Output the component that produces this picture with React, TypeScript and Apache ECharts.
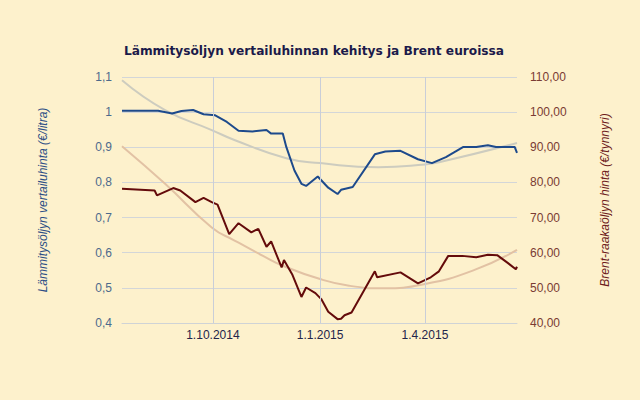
import React, { useEffect, useRef } from "react";
import * as echarts from "echarts";

const TITLE = "Lämmitysöljyn vertailuhinnan kehitys ja Brent euroissa";
const LEFT_NAME = "Lämmitysöljyn vertailuhinta (€/litra)";
const RIGHT_NAME = "Brent-raakaöljyn hinta (€/tynnyri)";

const X_MIN = "2014-07-15";
const X_MAX = "2015-06-19";
const X_MARKS = ["2014-10-01", "2015-01-01", "2015-04-01"];
const X_MARK_LABELS = ["1.10.2014", "1.1.2015", "1.4.2015"];

const heatingDates = [
  "2014-07-15", "2014-08-15", "2014-08-27", "2014-09-04", "2014-09-14", "2014-09-23",
  "2014-10-03", "2014-10-13", "2014-10-23", "2014-11-04", "2014-11-16", "2014-11-20",
  "2014-11-30", "2014-12-03", "2014-12-10", "2014-12-16", "2014-12-20", "2014-12-30",
  "2015-01-08", "2015-01-16", "2015-01-19", "2015-01-29", "2015-02-17", "2015-02-26",
  "2015-03-11", "2015-03-26", "2015-04-07", "2015-04-19", "2015-05-04", "2015-05-15",
  "2015-05-25", "2015-06-01", "2015-06-17", "2015-06-19",
];
const heatingValues = [
  1.004, 1.004, 0.996, 1.003, 1.006, 0.994,
  0.991, 0.972, 0.947, 0.945, 0.949, 0.939,
  0.939, 0.901, 0.834, 0.796, 0.790, 0.817,
  0.785, 0.767, 0.779, 0.787, 0.880, 0.888,
  0.890, 0.866, 0.855, 0.872, 0.901, 0.901,
  0.906, 0.901, 0.901, 0.884,
];

const brentDates = [
  "2014-07-15", "2014-08-12", "2014-08-14", "2014-08-28", "2014-09-03", "2014-09-16",
  "2014-09-23", "2014-09-30", "2014-10-05", "2014-10-15", "2014-10-23", "2014-11-03",
  "2014-11-09", "2014-11-16", "2014-11-20", "2014-11-29", "2014-12-01", "2014-12-08",
  "2014-12-16", "2014-12-20", "2014-12-28", "2015-01-02", "2015-01-08", "2015-01-16",
  "2015-01-19", "2015-01-22", "2015-01-28", "2015-02-17", "2015-02-19", "2015-03-11",
  "2015-03-26", "2015-04-06", "2015-04-13", "2015-04-21", "2015-05-03", "2015-05-15",
  "2015-05-25", "2015-06-02", "2015-06-11", "2015-06-18", "2015-06-19",
];
const brentValues = [
  78.2, 77.7, 76.3, 78.4, 77.7, 74.4,
  75.6, 74.4, 73.7, 65.3, 68.4, 65.8,
  66.8, 61.7, 63.2, 55.8, 57.9, 53.9,
  47.4, 50.1, 48.5, 46.8, 43.2, 41.1,
  41.2, 42.2, 43.0, 54.7, 53.0, 54.4,
  51.3, 53.0, 54.7, 59.1, 59.1, 58.7,
  59.4, 59.3, 57.1, 55.3, 56.0,
];

const heatingTrendDates = [
  "2014-07-15", "2014-08-21", "2014-09-30", "2014-10-20", "2014-12-03", "2015-01-01",
  "2015-02-20", "2015-04-01", "2015-04-14", "2015-06-19",
];
const heatingTrendValues = [1.091, 1.006, 0.949, 0.92, 0.869, 0.855, 0.843, 0.851, 0.858, 0.912];

const brentTrendDates = [
  "2014-07-15", "2014-08-21", "2014-09-30", "2014-10-20", "2014-11-13", "2014-11-30",
  "2015-01-01", "2015-01-26", "2015-02-23", "2015-04-01", "2015-05-12", "2015-06-19",
];
const brentTrendValues = [90.3, 79.6, 67.2, 63.4, 59.1, 56.3, 52.5, 50.6, 49.9, 51.1, 54.9, 60.8];

const zip = (d: string[], v: number[]) => d.map((x, i) => [x, v[i]]);

export default function App() {
  const ref = useRef<HTMLDivElement>(null);
  useEffect(() => {
    if (!ref.current) return;
    document.body.style.margin = "0";
    document.body.style.background = "#fdf1cc";
    const chart = echarts.init(ref.current, undefined, { renderer: "svg" });
    const font = "'Liberation Sans', Arial, sans-serif";
    chart.setOption({
      animation: false,
      backgroundColor: "#fdf1cc",
      textStyle: { fontFamily: font },
      title: {
        text: TITLE,
        left: 309,
        top: 40,
        textAlign: "center",
        textStyle: {
          fontFamily: "'DejaVu Sans', Verdana, sans-serif",
          fontWeight: "bold",
          fontSize: 12.2,
          color: "#1b1a4a",
        },
      },
      grid: { left: 122, right: 123, top: 77, bottom: 77, containLabel: false },
      xAxis: {
        type: "time",
        min: X_MIN,
        max: X_MAX,
        axisLine: { show: true, lineStyle: { color: "#cfd3d6", width: 1 } },
        axisTick: { show: false },
        axisLabel: { show: false },
        splitLine: { show: false },
      },
      yAxis: [
        {
          type: "value",
          min: 0.4,
          max: 1.1,
          interval: 0.1,
          position: "left",
          name: LEFT_NAME,
          nameLocation: "middle",
          nameRotate: 90,
          nameGap: 73,
          nameTextStyle: { color: "#2c4f86", fontStyle: "italic", fontSize: 12, fontFamily: font },
          axisLine: { show: false },
          axisTick: { show: false },
          axisLabel: {
            color: "#4d6a8c",
            fontSize: 12,
            margin: 10,
            fontFamily: font,
            formatter: (v: number) => String(Math.round(v * 10) / 10).replace(".", ","),
          },
          splitLine: { show: true, lineStyle: { color: "#d3d6d8", width: 1 } },
        },
        {
          type: "value",
          min: 40,
          max: 110,
          interval: 10,
          position: "right",
          name: RIGHT_NAME,
          nameLocation: "middle",
          nameRotate: 90,
          nameGap: 82,
          nameTextStyle: { color: "#6e1c1c", fontStyle: "italic", fontSize: 12, fontFamily: font },
          axisLine: { show: false },
          axisTick: { show: false },
          axisLabel: {
            color: "#7a3b33",
            fontSize: 12,
            margin: 13,
            fontFamily: font,
            formatter: (v: number) => v.toFixed(2).replace(".", ","),
          },
          splitLine: { show: false },
        },
      ],
      series: [
        {
          name: "trend-heating",
          type: "line",
          yAxisIndex: 0,
          data: zip(heatingTrendDates, heatingTrendValues),
          smooth: true,
          showSymbol: false,
          lineStyle: { color: "#cdccbf", width: 2 },
          z: 1,
          markLine: {
            silent: true,
            symbol: "none",
            lineStyle: { color: "#c9ced8", width: 1, type: "solid" },
            label: {
              show: true,
              position: "start",
              distance: 6,
              color: "#23244a",
              fontSize: 12,
              fontFamily: font,
              formatter: (p: any) => X_MARK_LABELS[p.dataIndex],
            },
            data: X_MARKS.map((d) => ({ xAxis: d })),
          },
        },
        {
          name: "trend-brent",
          type: "line",
          yAxisIndex: 1,
          data: zip(brentTrendDates, brentTrendValues),
          smooth: true,
          showSymbol: false,
          lineStyle: { color: "#e2c2a4", width: 2 },
          z: 1,
        },
        {
          name: "heating",
          type: "line",
          yAxisIndex: 0,
          data: zip(heatingDates, heatingValues),
          showSymbol: false,
          lineStyle: { color: "#1d4a8c", width: 2 },
          z: 3,
        },
        {
          name: "brent",
          type: "line",
          yAxisIndex: 1,
          data: zip(brentDates, brentValues),
          showSymbol: false,
          lineStyle: { color: "#640b0b", width: 2 },
          z: 3,
        },
      ],
    });
    return () => chart.dispose();
  }, []);
  return <div ref={ref} style={{ width: 640, height: 400 }} />;
}
